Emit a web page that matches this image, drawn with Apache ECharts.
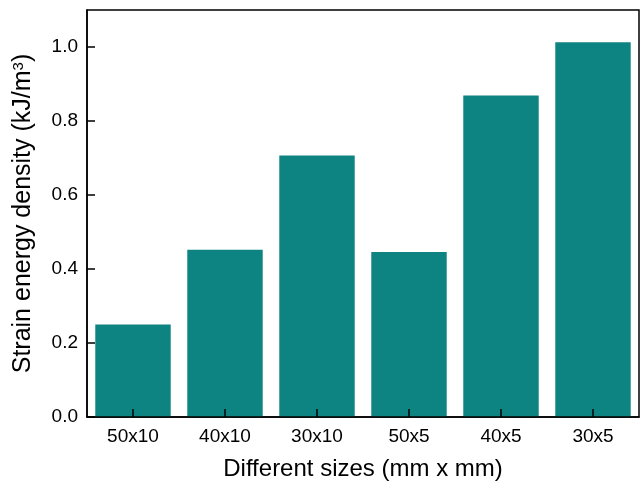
<!DOCTYPE html>
<html>
<head>
<meta charset="utf-8">
<script src="https://cdn.jsdelivr.net/npm/echarts@6/dist/echarts.min.js"></script>
<style>
  html, body { margin: 0; padding: 0; background: #fff; }
  #chart { width: 643px; height: 486px; }
</style>
</head>
<body>
<div id="chart"></div>
<script>
// sizes (mm x mm) and measured strain energy density (kJ/m^3)
const sizes = ['50x10', '40x10', '30x10', '50x5', '40x5', '30x5'];
const energy = [0.25, 0.452, 0.707, 0.446, 0.869, 1.013];
const yTickValues = [0, 0.2, 0.4, 0.6, 0.8, 1.0];
const yMax = 1.1;

const font = 'Arial, "Liberation Sans", sans-serif';
const chart = echarts.init(document.getElementById('chart'));

const tickStyle = { show: true, inside: true, length: 8, lineStyle: { color: '#000', width: 1.5 } };

const option = {
  animation: false,
  grid: {
    left: 87,
    right: 4,
    top: 10,
    bottom: 68,
    show: true,
    borderColor: '#000',
    borderWidth: 1.5,
  },
  xAxis: {
    type: 'category',
    data: sizes,
    boundaryGap: true,
    z: 10,
    name: 'Different sizes (mm x mm)',
    nameLocation: 'middle',
    nameGap: 40,
    nameTextStyle: { fontFamily: font, fontSize: 24, color: '#000' },
    axisLine: { lineStyle: { color: '#000', width: 1.5 } },
    axisTick: Object.assign({ alignWithLabel: true }, tickStyle),
    axisLabel: { fontFamily: font, fontSize: 19, color: '#000', margin: 10 },
    splitLine: { show: false },
  },
  yAxis: {
    type: 'value',
    min: 0,
    max: yMax,
    z: 10,
    name: 'Strain energy density (kJ/m{sup|3})',
    nameLocation: 'middle',
    nameGap: 51,
    nameTextStyle: {
      fontFamily: font,
      fontSize: 25,
      color: '#000',
      rich: {
        sup: { fontFamily: font, fontSize: 15, color: '#000', verticalAlign: 'top' },
      },
    },
    axisLine: { show: true, lineStyle: { color: '#000', width: 1.5 } },
    axisTick: Object.assign({ customValues: yTickValues }, tickStyle),
    axisLabel: {
      customValues: yTickValues,
      fontFamily: font,
      fontSize: 19,
      color: '#000',
      margin: 9,
      formatter: (v) => v.toFixed(1),
    },
    splitLine: { show: false },
  },
  series: [
    {
      type: 'bar',
      data: energy,
      barCategoryGap: '18%',
      itemStyle: { color: '#0E8482' },
    },
  ],
};

chart.setOption(option);
</script>
</body>
</html>
